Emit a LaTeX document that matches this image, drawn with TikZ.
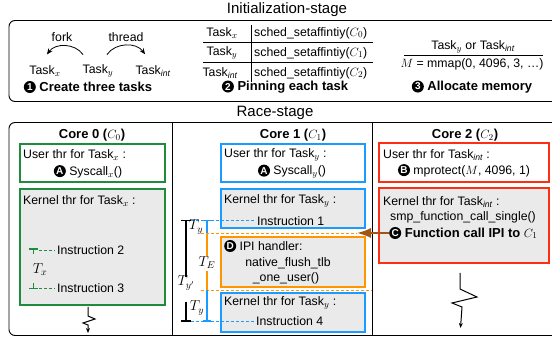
\documentclass[tikz,border=0pt]{standalone}
\usepackage{fontspec}
\setmainfont{Liberation Sans}
\usetikzlibrary{arrows.meta,calc}
\definecolor{cgreen}{RGB}{30,140,60}
\definecolor{cblue}{RGB}{25,155,255}
\definecolor{cred}{RGB}{255,45,20}
\definecolor{corange}{RGB}{255,150,0}
\definecolor{cbrown}{RGB}{160,85,20}
\definecolor{cgray}{RGB}{234,234,234}
\newcommand{\blkcirc}[1]{\tikz[baseline={([yshift=-4.2pt]bcn.center)}]{\node[circle,fill=black,text=white,inner sep=0pt,minimum size=12pt,font=\fontsize{10}{10}\selectfont\bfseries,anchor=center](bcn){#1};}}
\begin{document}
\begin{tikzpicture}[x=1pt,y=-1pt,
 every node/.style={inner sep=0pt,font=\fontsize{12.3}{14}\selectfont},
 boldtxt/.style={font=\fontsize{13}{15}\selectfont\bfseries},
 titletxt/.style={font=\fontsize{15}{17}\selectfont},
 mtxt/.style={font=\fontsize{14}{16}\selectfont},
 lft/.style={anchor=west},
 box/.style={line width=2pt,inner sep=0pt},
 frame/.style={line width=0.9pt},
 dline/.style={dash pattern=on 3pt off 2pt,line width=0.9pt},
 bar/.style={line width=1.6pt},
 fl/.style={-{Stealth[length=6pt,width=5pt]},line width=0.8pt},
 squig/.style={-{Stealth[length=5pt,width=4pt]},line width=1pt}]
\useasboundingbox (0,0) rectangle (552,339);
\clip (0,0) rectangle (552,339);

% ---------- Initialization stage ----------
\node[titletxt] (init) at (287,10) {Initialization-stage};
\draw[frame,rounded corners=6pt] (9,20.5) rectangle (562,101.5);

\node (fork) at (62,37) {fork};
\node (thread) at (126,37) {thread};
\node (tx) at (45,71) {Task$_x$};
\node (ty) at (98,71) {Task$_y$};
\node (ti) at (153,71) {Task$_{\mathit{int}}$};
\draw[fl] ($(ty.north)+(-15,-10)$) to[bend right=55] ($(tx.north)+(2,-11)$);
\draw[fl] ($(ty.north)+(9,-10)$) to[bend left=55] ($(ti.north)+(-8,-11)$);
\node[boldtxt] (s1) at (88,87) {\blkcirc{1} Create three tasks};

\draw[line width=0.8pt] (203,42.5)--(373,42.5);
\draw[line width=0.8pt] (203,62.5)--(373,62.5);
\draw[line width=0.8pt] (251,25)--(251,82);
\node (r0) at (222,33) {Task$_x$};
\node (r1) at (222,53) {Task$_y$};
\node (r2) at (220,73) {Task$_{\mathit{int}}$};
\node[lft] (c0) at (254,33) {sched\_setaffintiy($C_0$)};
\node[lft] (c1) at (254,53) {sched\_setaffintiy($C_1$)};
\node[lft] (c2) at (254,73) {sched\_setaffintiy($C_2$)};
\node[boldtxt] (s2) at (285,87) {\blkcirc{2} Pinning each task};

\node (tyor) at (473,47) {Task$_y$ or Task$_{\mathit{int}}$};
\draw[line width=0.8pt] (404,55.5)--(543,55.5);
\node (mm) at (472,64) {$M$ = mmap(0, 4096, 3, …)};
\node[boldtxt] (s3) at (472,87) {\blkcirc{3} Allocate memory};

% ---------- Race stage ----------
\node[titletxt] (race) at (275,113) {Race-stage};
\draw[frame,rounded corners=6pt] (9,122.5) rectangle (562,335.5);
\draw[frame] (172.5,122.5)--(172.5,335.5);
\draw[frame] (372.5,122.5)--(372.5,335.5);

\node[boldtxt] (core0) at (92,135) {Core 0 ($C_0$)};
\node[boldtxt] (core1) at (293,135) {Core 1 ($C_1$)};
\node[boldtxt] (core2) at (465,135) {Core 2 ($C_2$)};

% Core 0
\node[box,draw=cgreen,minimum width=145pt,minimum height=38.5pt] (u0) at (92.5,163.25) {};
\node[box,draw=cgreen,fill=cgray,minimum width=145pt,minimum height=116pt] (k0) at (92.5,247) {};
\node[lft] (u0t) at (23,155) {User thr for Task$_x$ :};
\node (a0) at (88,171.5) {\blkcirc{A} Syscall$_x$()};
\node[lft] (k0t) at (23,201) {Kernel thr for Task$_x$ :};
\node[lft] (i2) at (57,250) {Instruction 2};
\node[lft] (i3) at (57,288) {Instruction 3};
\node[mtxt] (tx0) at (40,270) {$T_x$};
\draw[bar,cgreen] (29,249)--(38,249);
\draw[bar,cgreen] (33.5,249)--(33.5,254);
\draw[bar,cgreen] (33.5,283)--(33.5,288.5);
\draw[bar,cgreen] (29,288.5)--(38,288.5);
\draw[dline,cgreen] (39,250)--([xshift=-2pt]i2.west);
\draw[dline,cgreen] (39,288)--([xshift=-2pt]i3.west);
\draw[squig] (88,307)--(88,316)--(95,319)--(83,323)--(88,325)--(88,333);

% Core 1
\node[box,draw=cblue,minimum width=144pt,minimum height=38.5pt] (u1) at (293,163.25) {};
\node[box,draw=cblue,fill=cgray,minimum width=144pt,minimum height=39pt] (k1) at (293,208.5) {};
\node[box,draw=corange,fill=cgray,minimum width=144pt,minimum height=49.4pt] (dh) at (293,262) {};
\node[box,draw=cblue,fill=cgray,minimum width=144pt,minimum height=39.2pt] (k1b) at (293,312.9) {};
\node[lft] (u1t) at (224,155) {User thr for Task$_y$ :};
\node (a1) at (292,171.5) {\blkcirc{A} Syscall$_y$()};
\node[lft] (k1t) at (224,201) {Kernel thr for Task$_y$ :};
\node[lft] (i1) at (257,220.7) {Instruction 1};
\node[lft] (dt) at (224,246) {\blkcirc{D} IPI handler:};
\node (nf) at (288,263) {native\_flush\_tlb};
\node (ou) at (286,278) {\_one\_user()};
\node[lft] (k1bt) at (224,303) {Kernel thr for Task$_y$ :};
\node[lft] (i4) at (256,321) {Instruction 4};

\coordinate (tip) at (357,233);
\draw[dline,cblue] (191,220.7)--([xshift=-2pt]i1.west);
\draw[dline,cblue] (191,321)--([xshift=-2pt]i4.west);
\draw[dline,corange] (201,233)--(tip);
\draw[dline,corange] (201,290)--(372,290);

\draw[bar] (181,220.7)--(191,220.7);
\draw[bar] (186,220.7)--(186,277);
\draw[bar] (186,302)--(186,321);
\draw[bar] (181,321)--(191,321);
\draw[bar,cblue] (202.5,220.7)--(211,220.7);
\draw[bar,cblue] (206.7,220.7)--(206.7,233);
\draw[bar,corange] (206.7,233)--(206.7,256);
\draw[bar,corange] (206.7,271)--(206.7,290);
\draw[bar,cblue] (206.7,290)--(206.7,321);
\draw[bar,cblue] (202.5,321)--(211,321);
\node[mtxt] (tya) at (196,227) {$T_y$};
\node[mtxt] (te) at (207,263) {$T_E$};
\node[mtxt] (typ) at (186,283) {$T_{y'}$};
\node[mtxt] (tyb) at (197,308) {$T_y$};

% Core 2
\node[box,draw=cred,minimum width=170pt,minimum height=39pt] (u2) at (464,163) {};
\node[box,draw=cred,fill=cgray,minimum width=170pt,minimum height=74.5pt] (k2) at (464,225.75) {};
\node[lft] (u2t) at (383,155) {User thr for Task$_{\mathit{int}}$ :};
\node (b2) at (464,170.5) {\blkcirc{B} mprotect($M$, 4096, 1)};
\node[lft] (k2t) at (383,202) {Kernel thr for Task$_{\mathit{int}}$ :};
\node (smp) at (463,217) {smp\_function\_call\_single()};
\node[boldtxt,lft] (cc) at (389,233) {\blkcirc{C} Function call IPI to $C_1$};
\draw[cbrown,line width=1.6pt,-{Latex[length=14pt,width=10pt]}] (cc.west) -- (cc.west -| tip);
\draw[squig] (460,273)--(460,289)--(477,297)--(452,303)--(462,307)--(460.5,328);
\end{tikzpicture}
\end{document}
